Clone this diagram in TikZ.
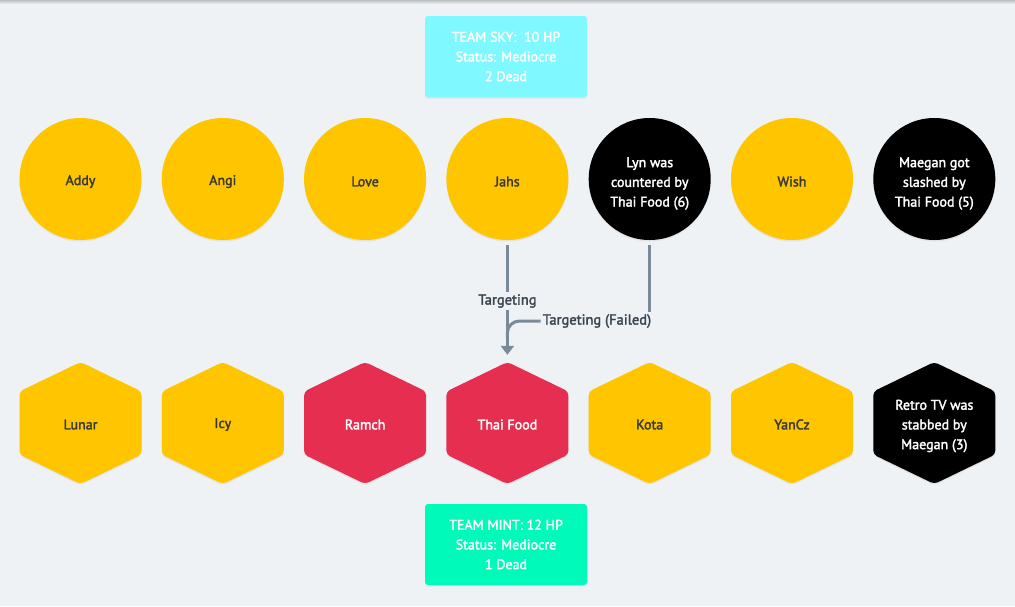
\documentclass[tikz,border=0pt]{standalone}
\usepackage{fontspec}
\setmainfont{PT Sans}[FakeBold=2.2]
\usetikzlibrary{arrows.meta,shadows,calc}
\definecolor{bg}{HTML}{EEF2F5}
\definecolor{gold}{HTML}{FFC600}
\definecolor{crimson}{HTML}{E62E51}
\definecolor{sky}{HTML}{80F8FF}
\definecolor{mint}{HTML}{00FABA}
\definecolor{wire}{HTML}{7A8A99}
\definecolor{ink}{HTML}{3A4550}
\definecolor{darktext}{HTML}{383838}

% round token: name, x, y, style, text colour, text shift, text
\newcommand\RoundToken[7]{%
  \node[#4] (#1) at (#2,#3) {};
  \node[tokentext, text=#5, yshift=-#6pt] (#1-text) at (#1) {#7};}

% hexagon token: name, x, y, fill, text colour, text shift, text
\newcommand\HexToken[7]{%
  \fill[#4, rounded corners=4pt, softshadow]
    (#2,#3-61) -- (#2+61,#3-31.5) -- (#2+61,#3+31.5) -- (#2,#3+61)
    -- (#2-61,#3+31.5) -- (#2-61,#3-31.5) -- cycle;
  \node[hexcore] (#1) at (#2,#3) {};
  \node[tokentext, text=#5, yshift=-#6pt] (#1-text) at (#1) {#7};}

\begin{document}
\begin{tikzpicture}[x=1pt,y=-1pt,
  every node/.style={font=\fontsize{14}{19.7}\selectfont, align=center},
  softshadow/.style={drop shadow={opacity=0.12, shadow xshift=0pt, shadow yshift=-1.5pt}},
  player/.style={circle, minimum size=122pt, inner sep=0pt, fill=gold, softshadow},
  fallen/.style={player, fill=black},
  hexcore/.style={circle, minimum size=122pt, inner sep=0pt},
  tokentext/.style={inner sep=0pt},
  teambox/.style={rounded corners=3pt, minimum width=162pt, minimum height=81pt, inner sep=0pt, text=white, softshadow},
  wire/.style={draw=wire, line width=3pt},
  wirelabel/.style={fill=bg, text=ink, inner sep=2pt, font=\fontsize{14.5}{19.7}\selectfont}
]
% canvas
\fill[bg] (0,0) rectangle (1015,606);
\useasboundingbox (0,0) rectangle (1015,606);
\shade[top color=black!25, bottom color=bg] (0,0) rectangle (1015,4);

% team headers
\node[teambox, fill=sky] (sky) at (506,56.5) {TEAM SKY:\ \ 10 HP\\Status: Mediocre\\2 Dead};
\node[teambox, fill=mint] (mint) at (506,544.5) {TEAM MINT: 12 HP\\Status: Mediocre\\1 Dead};

% team sky
\RoundToken{addy}{80.5}{179}{player}{darktext}{2.5}{Addy}
\RoundToken{angi}{222.8}{179}{player}{darktext}{2.5}{Angi}
\RoundToken{love}{365.1}{179}{player}{darktext}{2.5}{Love}
\RoundToken{jahs}{507.4}{179}{player}{darktext}{2.5}{Jahs}
\RoundToken{lyn}{649.7}{179}{fallen}{white}{4.5}{Lyn was\\countered by\\Thai Food (6)}
\RoundToken{wish}{792}{179}{player}{darktext}{2.5}{Wish}
\RoundToken{maegan}{934.3}{179}{fallen}{white}{4.5}{Maegan got\\slashed by\\Thai Food (5)}

% team mint
\HexToken{lunar}{80.5}{423}{gold}{darktext}{1.5}{Lunar}
\HexToken{icy}{222.8}{423}{gold}{darktext}{1.5}{Icy}
\HexToken{ramch}{365.1}{423}{crimson}{white}{1.5}{Ramch}
\HexToken{thai}{507.4}{423}{crimson}{white}{1.5}{Thai Food}
\HexToken{kota}{649.7}{423}{gold}{darktext}{1.5}{Kota}
\HexToken{yancz}{792}{423}{gold}{darktext}{1.5}{YanCz}
\HexToken{retro}{934.3}{423}{black}{white}{3}{Retro TV was\\stabbed by\\Maegan (3)}

% targeting
\node[wirelabel] (tgt) at (507.4,301) {Targeting};
\node[wirelabel] (tgtfail) at (597,321) {Targeting (Failed)};
\coordinate (merge) at ($(thai.north)+(0,-24)$);

\draw[wire] ([yshift=-5pt]jahs.south) -- (tgt.north);
\draw[wire, -{Triangle[width=13pt,length=9pt]}] (tgt.south) -- ([yshift=7pt]thai.north);
\draw[wire] ([yshift=-5pt]lyn.south) -- (lyn.south |- tgtfail.north);
\draw[wire, rounded corners=12pt] (tgtfail.west) -| (merge);
\end{tikzpicture}
\end{document}
